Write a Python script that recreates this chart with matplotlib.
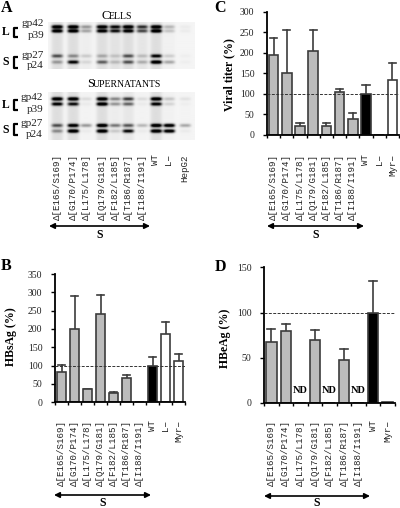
import numpy as np
import matplotlib
matplotlib.use('Agg')
import matplotlib.pyplot as plt

W, H = 400, 508
SERIF = 'Liberation Serif'
MONO = 'Liberation Mono'

mutants = ['Δ[E165/S169]', 'Δ[G170/P174]', 'Δ[L175/L178]', 'Δ[Q179/G181]',
           'Δ[F182/L185]', 'Δ[T186/R187]', 'Δ[I188/I191]']

# panel A, band strength per lane (gp42, p39, gp27, p24)
blot_lanes = mutants + ['WT', 'L−', 'HepG2']
cells_gp42 = [1.0, 1.0, 0.3, 0.95, 0.8, 1.0, 0.65, 1.0, 0.2, 0.03]
cells_p39 = [0.95, 0.95, 0.25, 0.9, 0.75, 0.9, 0.55, 1.0, 0.15, 0.03]
cells_gp27 = [0.5, 0.3, 0.12, 0.2, 0.12, 0.5, 0.15, 0.8, 0.12, 0.02]
cells_p24 = [0.25, 0.8, 0.08, 0.45, 0.15, 0.5, 0.2, 1.0, 0.25, 0.02]
sup_gp42 = [1.0, 1.0, 0.08, 1.0, 0.35, 0.6, 0.08, 1.0, 0.15, 0.06]
sup_p39 = [0.85, 0.75, 0.03, 1.0, 0.3, 0.45, 0.03, 0.85, 0.1, 0.02]
sup_gp27 = [0.5, 0.9, 0.3, 1.0, 0.4, 0.5, 0.2, 1.0, 1.0, 0.25]
sup_p24 = [0.3, 1.0, 0.03, 1.0, 0.12, 0.8, 0.03, 1.0, 1.0, 0.03]
# px positions of the lanes and bands on the gels
lane_px = [57, 73, 86, 102, 115, 128, 142, 156, 169, 185]
cells_band_px = [27.5, 31.5, 56.0, 62.0]
sup_band_px = [99.5, 104.5, 125.5, 131.0]

# panel B
hbsag_labels = mutants + ['WT', 'L−', 'Myr−']
hbsag = [83, 200, 35, 241, 26, 65, 0, 100, 186, 113]
hbsag_top = [101, 290, 37, 292, 28, 75, 0, 124, 219, 132]
# panel C
titer_labels = mutants + ['WT', 'L−', 'Myr−']
titer = [195, 150, 22, 204, 23, 105, 38, 100, 1, 134]
titer_top = [235, 255, 30, 256, 29, 113, 53, 121, 1, 174]
# panel D
hbeag_labels = mutants + ['WT', 'Myr−']
hbeag = [67, 80, 0, 70, 0, 48, 0, 100, 1]
hbeag_top = [82, 87, 0, 81, 0, 60, 0, 135, 1]
hbeag_nd = [False, False, True, False, True, False, True, False, False]

GREY = '#bcbcbc'
EDGE = '#3c3c3c'

fig = plt.figure(figsize=(W / 100, H / 100), dpi=100, facecolor='white')

# overlay in pixel coords for the loose annotations
ov = fig.add_axes([0, 0, 1, 1], zorder=5)
ov.set_xlim(0, W)
ov.set_ylim(H, 0)
ov.axis('off')


def px_axes(x0, y_top, x1, y_bot):
    return fig.add_axes([x0 / W, 1 - y_bot / H, (x1 - x0) / W, (y_bot - y_top) / H])


def bar_panel(box, labels, vals, tops, colors, ymax, step, ylabel, ylabel_x, ylabel_y, label_pad):
    ax = px_axes(*box)
    n = len(vals)
    x = np.arange(n)
    ax.bar(x, vals, width=0.72, color=colors, edgecolor=EDGE, linewidth=1.2, zorder=2)
    for xi, v, t in zip(x, vals, tops):
        if t > v:
            ax.plot([xi, xi], [v, t], color=EDGE, lw=1.2, zorder=1)
            ax.plot([xi - 0.27, xi + 0.27], [t, t], color=EDGE, lw=1.2, zorder=1)
    ax.axhline(100, color='#333333', lw=0.7, ls=(0, (3, 1.5)), zorder=3)
    ax.set_xlim(-0.5, n - 0.5)
    ax.set_ylim(0, ymax)
    ax.set_yticks(np.arange(0, ymax + 1, step))
    ax.tick_params(axis='y', labelsize=7, length=3, width=1, pad=6, labelcolor='#222222')
    for t in ax.get_yticklabels():
        t.set_family(SERIF)
    ax.set_xticks(x)
    ax.set_xticklabels(labels, rotation=90, family=MONO, fontsize=6.6, color='#222222')
    ax.tick_params(axis='x', which='major', length=0, pad=label_pad)
    ax.set_xticks(np.arange(n + 1) - 0.5, minor=True)
    ax.tick_params(axis='x', which='minor', length=2.5, width=1)
    for s in ['top', 'right']:
        ax.spines[s].set_visible(False)
    for s in ['left', 'bottom']:
        ax.spines[s].set_linewidth(1.3)
    ov.text(ylabel_x, ylabel_y, ylabel, rotation=90, ha='center', va='center',
            family=SERIF, fontsize=8.5, fontweight='bold')
    return ax


def s_arrow(x0, x1, y, y_s):
    ov.annotate('', xy=(x0, y), xytext=(x1, y),
                arrowprops=dict(arrowstyle='<|-|>', color='black', lw=1.2, mutation_scale=8,
                                shrinkA=0, shrinkB=0))
    ov.text((x0 + x1) / 2, y_s, 'S', ha='center', va='center', family=SERIF, fontsize=8.5,
            fontweight='bold')


def blot(box, band_px, bands):
    # gel rendered from the band strengths
    x0, y0, x1, y1 = box
    xs = np.arange(x0, x1, 0.5)
    ys = np.arange(y0, y1, 0.5)
    xx, yy = np.meshgrid(xs, ys)
    img = np.zeros_like(xx)
    for by, strengths in zip(band_px, bands):
        for lx, s in zip(lane_px, strengths):
            img += 1.2 * s * np.exp(-((xx - lx) / 5.6) ** 4) * np.exp(-((yy - by) / 1.7) ** 2)
    # faint smear down the lanes
    for lx, s in zip(lane_px, bands[0]):
        img += 0.09 * s * np.exp(-((xx - lx) / 6.0) ** 4)
    img = np.clip(0.04 + img, 0, 1)
    ax = px_axes(x0, y0, x1, y1)
    ax.imshow(img, cmap='gray_r', vmin=0, vmax=1, aspect='auto', interpolation='bilinear')
    ax.axis('off')


def bracket(x, y0, y1):
    ov.plot([x + 4, x, x, x + 4], [y0, y0, y1, y1], color='black', lw=1.6, solid_capstyle='butt')


# panel A
blot((48, 22, 195, 69), cells_band_px, [cells_gp42, cells_p39, cells_gp27, cells_p24])
blot((48, 92, 195, 140), sup_band_px, [sup_gp42, sup_p39, sup_gp27, sup_p24])

ov.text(1, 8, 'A', family=SERIF, fontsize=11.5, fontweight='bold', va='center')
ov.text(102, 16, 'C', family=SERIF, fontsize=9, va='center')
ov.text(109, 16.6, 'ELLS', family=SERIF, fontsize=7, va='center')
ov.text(87, 84, 'S', family=SERIF, fontsize=9, va='center')
ov.text(92.5, 84.6, 'UPERNATANTS', family=SERIF, fontsize=7, va='center')

for txt, y, xr in [('gp42', 24, 44), ('p39', 35.5, 44), ('gp27', 55, 44), ('p24', 66, 44),
                   ('gp42', 98, 43), ('p39', 109, 43), ('gp27', 124, 43), ('p24', 134.5, 43)]:
    ov.text(xr, y, txt, family=SERIF, fontsize=8, ha='right', va='center', color='#222222')
for txt, y in [('L', 32), ('S', 62), ('L', 105), ('S', 130)]:
    ov.text(2, y, txt, family=SERIF, fontsize=8.5, fontweight='bold', va='center')
bracket(13.5, 28, 37)
bracket(13.5, 57, 68)
bracket(13.5, 100, 110)
bracket(13.5, 124, 135)

for lx, name in zip(lane_px, blot_lanes):
    ov.text(lx, 154, name, rotation=90, family=MONO, fontsize=6.6, ha='center', va='top',
            color='#222222')
s_arrow(49, 150, 226, 235)

# panel B
colors_b = [GREY] * 7 + ['black', 'white', 'white']
bar_panel((55, 274, 185, 402.3), hbsag_labels, hbsag, hbsag_top, colors_b, 350, 50, 'HBsAg (%)', 11, 337, 12.6)
s_arrow(54, 151, 495, 503)
ov.text(1, 266, 'B', family=SERIF, fontsize=11.5, fontweight='bold', va='center')

# panel C
colors_c = [GREY] * 7 + ['black', 'white', 'white']
bar_panel((267, 11.7, 399, 135), titer_labels, titer, titer_top, colors_c, 300, 50, 'Viral titer (%)', 229, 75, 13.5)
s_arrow(267, 364, 226, 235)
ov.text(214, 8, 'C', family=SERIF, fontsize=11.5, fontweight='bold', va='center')

# panel D
colors_d = [GREY] * 7 + ['black', 'white']
ax_d = bar_panel((264, 267.3, 395, 403), hbeag_labels, hbeag, hbeag_top, colors_d, 150, 50, 'HBeAg (%)', 225, 338, 12.5)
for i, nd in enumerate(hbeag_nd):
    if nd:
        ax_d.text(i, 14, 'ND', ha='center', va='center', family=SERIF, fontsize=7.5,
                  fontweight='bold', zorder=4)
s_arrow(264, 370, 496, 503)
ov.text(215, 267, 'D', family=SERIF, fontsize=11.5, fontweight='bold', va='center')

fig.savefig('out.png', dpi=100)
